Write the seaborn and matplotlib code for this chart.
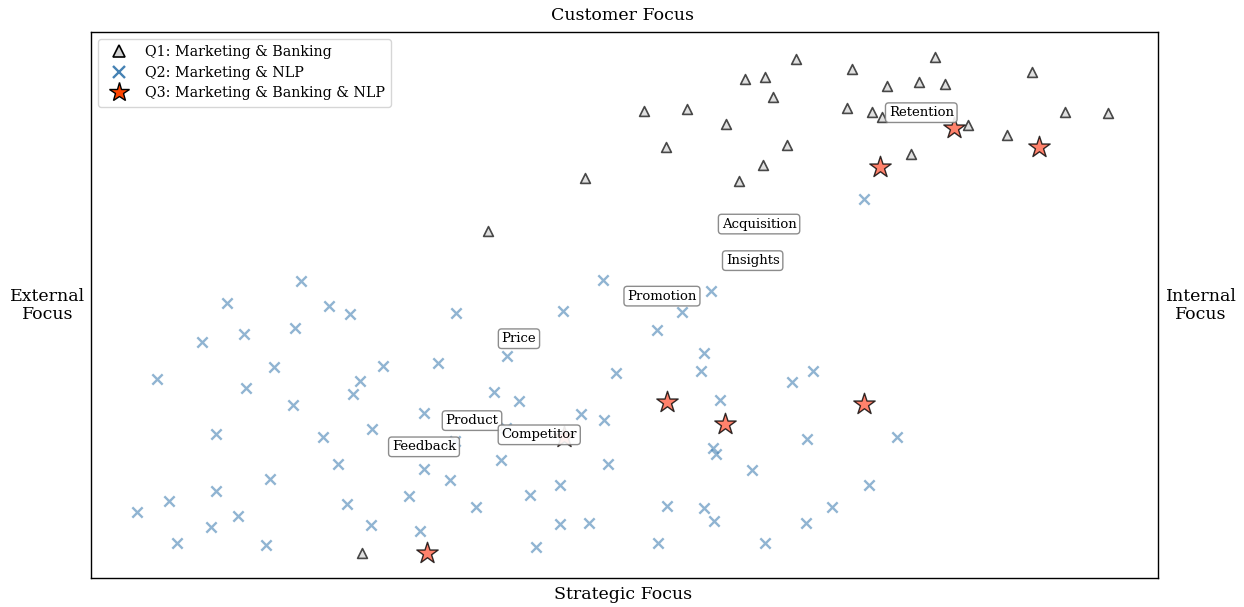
import matplotlib
matplotlib.use("Agg")
import matplotlib.pyplot as plt
from matplotlib.lines import Line2D
import seaborn as sns
import pandas as pd

sns.set_theme(style="white")
plt.rcParams['font.family'] = ['DejaVu Serif']
plt.rcParams['text.color'] = 'black'
plt.rcParams['legend.edgecolor'] = '0.8'

# Q1: Marketing & Banking
q1_x = [5.18, 5.58, 6.13, 6.32, 6.61, 6.39, 5.95, 5.39, 4.63, 3.72, 6.07, 6.30, 6.52, 7.13,
        7.08, 7.32, 7.41, 7.46, 7.76, 7.91, 8.00, 7.68, 8.22, 8.58, 8.82, 9.13, 9.53, 2.54]
q1_y = [8.55, 8.59, 9.14, 9.18, 9.51, 8.81, 8.32, 7.89, 7.33, 6.36, 7.27, 7.56, 7.93, 9.32,
        8.61, 8.53, 8.44, 9.01, 9.08, 9.54, 9.05, 7.77, 8.30, 8.11, 9.27, 8.53, 8.52, 0.46]

# Q2: Marketing & NLP
q2_x = [0.43, 0.73, 0.81, 1.12, 1.17, 1.38, 1.64, 1.68, 1.17, 1.45, 0.62, 1.04, 1.27, 1.43,
        1.71, 1.89, 1.91, 1.97, 2.23, 2.43, 2.17, 2.31, 2.40, 2.45, 2.52, 2.63, 2.62, 2.74,
        2.98, 3.08, 3.12, 3.12, 3.25, 3.36, 3.42, 3.41, 3.61, 3.78, 3.84, 3.90, 4.01, 3.89,
        4.11, 4.17, 4.39, 4.39, 4.42, 4.59, 4.67, 4.80, 4.81, 4.84, 4.92, 5.30, 5.31, 5.40,
        5.54, 5.72, 5.74, 5.74, 5.81, 5.84, 5.83, 5.86, 5.89, 6.19, 6.32, 6.57, 6.70, 6.71,
        6.77, 6.94, 7.29, 7.55, 7.24]
q2_y = [1.21, 1.41, 0.64, 0.93, 1.59, 1.14, 0.60, 1.81, 2.64, 3.48, 3.64, 4.32, 5.04, 4.47,
        3.86, 3.17, 4.58, 5.44, 4.98, 4.84, 2.58, 2.09, 1.36, 3.37, 3.61, 2.73, 0.97, 3.88,
        1.50, 0.86, 3.02, 2.00, 3.94, 1.79, 4.85, 2.51, 1.30, 3.41, 2.16, 4.07, 3.24, 2.75,
        1.52, 0.57, 1.70, 0.99, 4.89, 3.00, 1.01, 5.46, 2.89, 2.09, 3.75, 4.54, 0.64, 1.32,
        4.87, 3.79, 4.12, 1.28, 5.26, 1.04, 2.38, 2.27, 3.26, 1.98, 0.64, 3.59, 1.01, 2.55,
        3.79, 1.30, 1.70, 2.58, 6.94]

# Q3: Marketing & Banking & NLP
q3_x = [8.09, 7.39, 8.88, 5.40, 5.94, 7.24, 4.43, 3.15]
q3_y = [8.24, 7.53, 7.89, 3.22, 2.82, 3.19, 2.58, 0.46]

# Topic labels
topics = ["Retention", "Acquisition", "Insights", "Promotion", "Price", "Product", "Competitor", "Feedback"]
topic_x = [7.78, 6.26, 6.20, 5.35, 4.01, 3.57, 4.20, 3.12]
topic_y = [8.52, 6.48, 5.81, 5.16, 4.38, 2.88, 2.62, 2.40]

legend_labels = ["Q1: Marketing & Banking", "Q2: Marketing & NLP", "Q3: Marketing & Banking & NLP"]

df1 = pd.DataFrame({"x": q1_x, "y": q1_y})
df2 = pd.DataFrame({"x": q2_x, "y": q2_y})
df3 = pd.DataFrame({"x": q3_x, "y": q3_y})

fig = plt.figure(figsize=(12.44, 6.07), dpi=100)
ax = fig.add_axes([0.0732, 0.048, 0.8578, 0.8995])

sns.scatterplot(data=df1, x="x", y="y", marker="^", s=50, color="lightgray",
                edgecolor="black", linewidth=1.2, alpha=0.7, ax=ax)
sns.scatterplot(data=df2, x="x", y="y", marker="x", s=55, color="steelblue",
                linewidth=1.7, alpha=0.6, ax=ax)
sns.scatterplot(data=df3, x="x", y="y", marker="*", s=260, color="tomato",
                edgecolor="black", linewidth=1.0, alpha=0.8, ax=ax)

for t, tx, ty in zip(topics, topic_x, topic_y):
    ax.text(tx, ty, t, ha="center", va="center", fontsize=9.5, color="black",
            bbox=dict(boxstyle="round,pad=0.25", facecolor="white", edgecolor="gray", alpha=0.9))

ax.set_xlim(0, 10)
ax.set_ylim(0, 10)
ax.set_xticks([])
ax.set_yticks([])
ax.set_xlabel("")
ax.set_ylabel("")
for sp in ax.spines.values():
    sp.set_visible(True)
    sp.set_color("black")
    sp.set_linewidth(1.0)

fig.text(0.5006, 0.974, "Customer Focus", ha="center", va="center", fontsize=12.5)
fig.text(0.5006, 0.021, "Strategic Focus", ha="center", va="center", fontsize=12.5)
fig.text(0.0386, 0.497, "External\nFocus", ha="center", va="center", fontsize=12.5, linespacing=1.1)
fig.text(0.9654, 0.497, "Internal\nFocus", ha="center", va="center", fontsize=12.5, linespacing=1.1)

handles = [
    Line2D([], [], linestyle="none", marker="^", markersize=8, markerfacecolor="lightgray",
           markeredgecolor="black", markeredgewidth=1.2),
    Line2D([], [], linestyle="none", marker="x", markersize=8, color="steelblue", markeredgewidth=1.7),
    Line2D([], [], linestyle="none", marker="*", markersize=15, markerfacecolor="orangered",
           markeredgecolor="black", markeredgewidth=1.0),
]
ax.legend(handles, legend_labels, loc="upper left", fontsize=10.3, frameon=True,
          borderpad=0.45, handletextpad=0.8, labelspacing=0.45)

fig.savefig("out.png", dpi=100)
